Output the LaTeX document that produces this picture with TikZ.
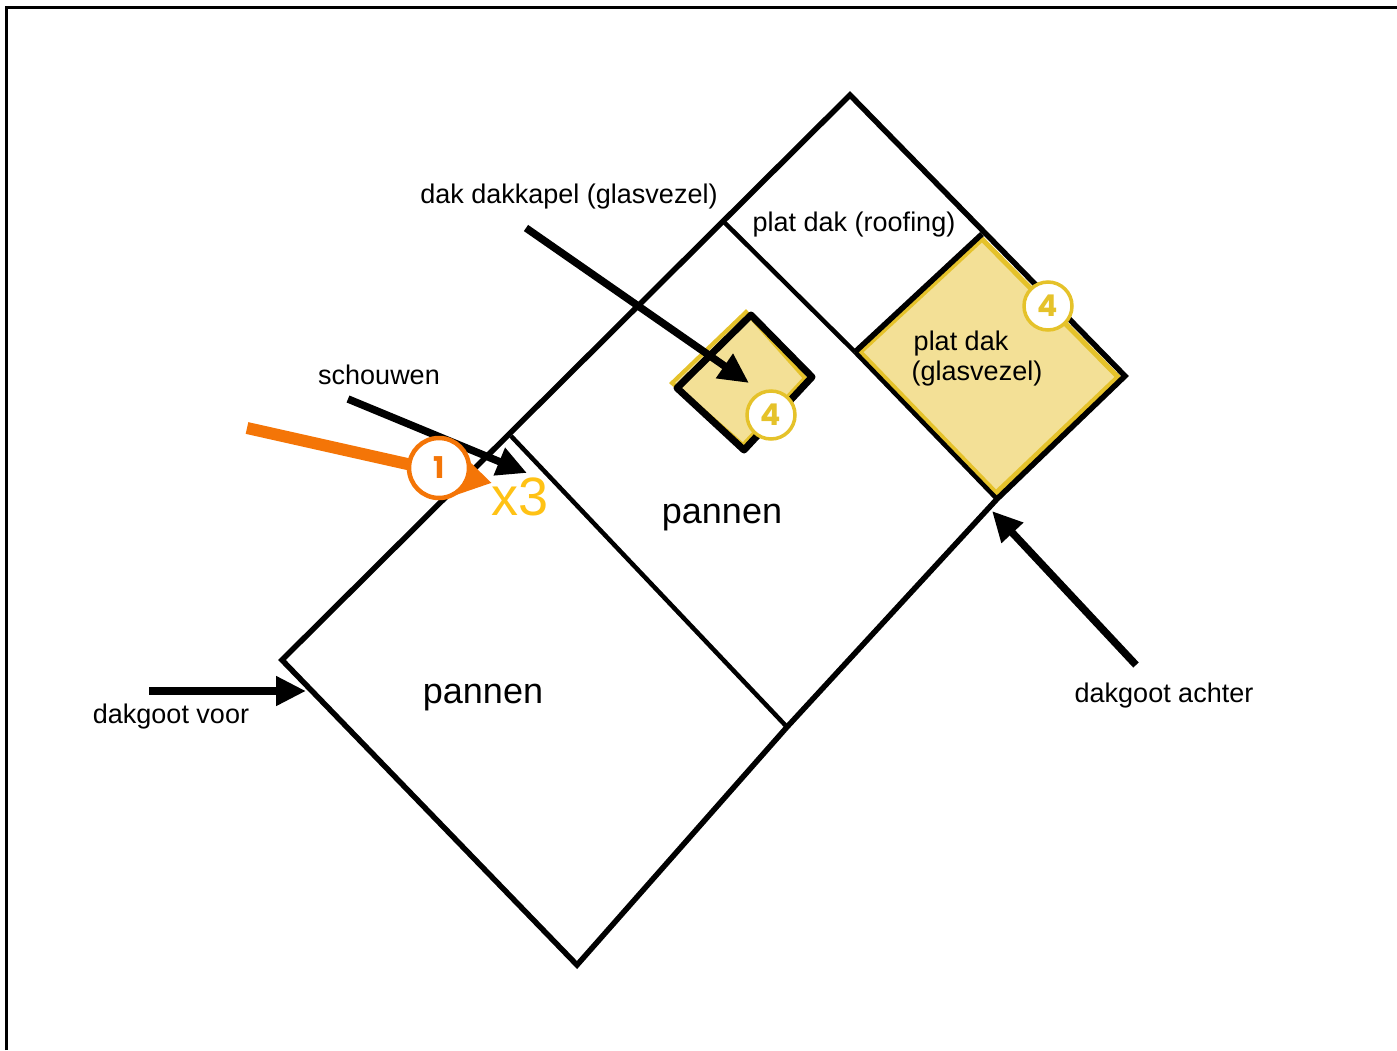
\documentclass[tikz,border=0pt]{standalone}
\usepackage{fontspec}
\setmainfont{Liberation Sans}
\newfontfamily\cijfer{Poppins}
\usetikzlibrary{arrows.meta}
\definecolor{geel}{HTML}{F3E096}
\definecolor{geelrand}{HTML}{E5C22A}
\definecolor{oranje}{HTML}{F47507}
\definecolor{xdrie}{HTML}{FFC215}
\tikzset{
	label/.style={font=\fontsize{27}{30}\selectfont,inner sep=0pt},
	dakvlak/.style={font=\fontsize{36}{40}\selectfont,inner sep=0pt},
	badge/.style={circle,draw=geelrand,fill=white,line width=3.5pt,minimum size=48pt,inner sep=0pt,text=geelrand,font=\fontsize{30}{32}\cijfer\bfseries\selectfont},
	pijl/.style={->,line width=7.5pt,line cap=butt},
}
\begin{document}
\begin{tikzpicture}[>={Triangle[length=30pt,width=28pt]},x=1pt,y=-1pt]
	\useasboundingbox (0,0) rectangle (1397,1050);
	\draw[line width=3.5pt] (6.5,1050)--(6.5,7.5)--(1397,7.5);
	\coordinate (L) at (282,660);
	\coordinate (T) at (850,95);
	\coordinate (R) at (1125,376);
	\coordinate (B) at (577,965);
	\coordinate (G1) at (724,222);
	\coordinate (G2) at (997,499);
	\coordinate (S1) at (511,436);
	\coordinate (S2) at (787,727);
	\coordinate (P1) at (982,234);
	\coordinate (P2) at (855,352);
	% plat dak
	\draw[fill=geel,draw=geelrand,line width=5pt] (982,239)--(1118,377)--(996,493)--(860,352)--cycle;
	\draw[line width=5.5pt,line join=miter] (L)--(T)--(R)--(G2)--(S2)--(B)--cycle;
	\draw[line width=4.5pt] (G1)--(P2);
	\draw[line width=4.5pt] (P2)--(G2);
	\draw[line width=4.5pt] (S1)--(S2);
	\draw[line width=5.5pt] (P1)--(P2);
	% dakkapel
	\draw[fill=geel,draw=geelrand,line width=4pt] (746,312)--(805,378)--(743,445)--(672,383)--cycle;
	\draw[line width=7pt,line join=round] (751,315)--(812,377)--(744,450)--(677,388)--cycle;
	% pijlen
	\coordinate (kapelA) at (526,228);
	\coordinate (kapelB) at (749,383);
	\coordinate (schouwA) at (348,399);
	\coordinate (schouwB) at (527,473);
	\coordinate (voorA) at (149,691);
	\coordinate (voorB) at (306,691);
	\coordinate (achterA) at (1136,665);
	\coordinate (achterB) at (992,511);
	\coordinate (oranjeA) at (247,428);
	\coordinate (oranjeB) at (492,483);
	\draw[pijl] (kapelA)--(kapelB);
	\draw[pijl] (schouwA)--(schouwB);
	\draw[pijl] (voorA)--(voorB);
	\draw[pijl] (achterA)--(achterB);
	\draw[->,draw=oranje,line width=12pt,>={Triangle[length=44pt,width=50pt]}] (oranjeA)--(oranjeB);
	% teksten
	\node[label] (kapel) at (569,197) {dak dakkapel (glasvezel)};
	\node[label] (roofing) at (854,225) {plat dak (roofing)};
	\node[label] (schouw) at (379,375) {schouwen};
	\node[label,align=left] (glas) at (977,359) {\hspace{2pt}plat dak\\(glasvezel)};
	\node[dakvlak] (pan1) at (722,518) {pannen};
	\node[dakvlak] (pan2) at (483,698) {pannen};
	\node[label] (voor) at (171,717) {dakgoot voor};
	\node[label] (achter) at (1164,696) {dakgoot achter};
	\node[inner sep=0pt,text=xdrie,font=\fontsize{54}{58}\selectfont] (x3) at (520,497) {x3};
	\node[badge] (vier1) at (771,415) {4};
	\node[badge] (vier2) at (1048,306) {4};
	\node[badge,draw=oranje,text=oranje,line width=4.5pt,minimum size=60pt] (een) at (439,468) {1};
\end{tikzpicture}
\end{document}
